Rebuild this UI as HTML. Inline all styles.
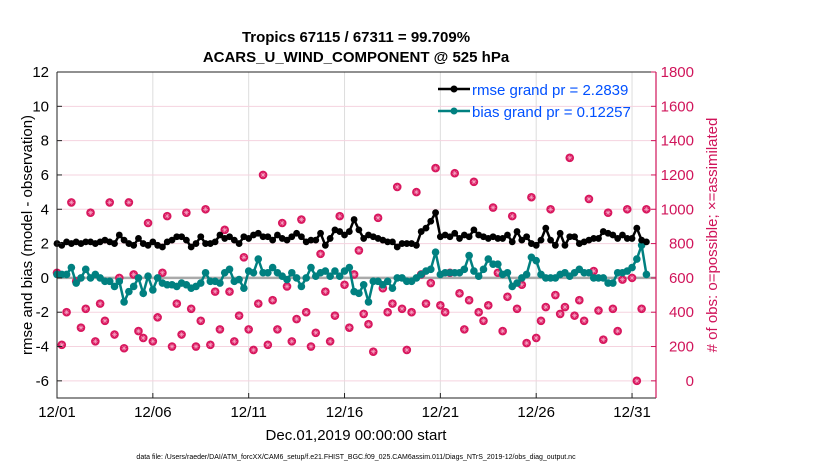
<!DOCTYPE html>
<html><head><meta charset="utf-8"><style>
body{margin:0;background:#fff;}
svg text{font-family:"Liberation Sans",sans-serif;}
</style></head><body>
<svg id="c" width="830" height="470" xmlns="http://www.w3.org/2000/svg">
<rect width="830" height="470" fill="#fff"/>
<g id="grid"></g>
<g id="series"></g>
<g id="axes"></g>
<text x="356" y="42" text-anchor="middle" font-size="15" font-weight="bold">Tropics 67115 / 67311 = 99.709%</text>
<text x="356" y="62" text-anchor="middle" font-size="15" font-weight="bold">ACARS_U_WIND_COMPONENT @ 525 hPa</text>
<text transform="translate(32,235) rotate(-90)" text-anchor="middle" font-size="15">rmse and bias (model - observation)</text>
<text transform="translate(717,235) rotate(-90)" text-anchor="middle" font-size="15" fill="#d0145a"># of obs: o=possible; ×=assimilated</text>
<text x="356" y="440" text-anchor="middle" font-size="15">Dec.01,2019 00:00:00 start</text>
<text x="356" y="459" text-anchor="middle" font-size="7">data file: /Users/raeder/DAI/ATM_forcXX/CAM6_setup/f.e21.FHIST_BGC.f09_025.CAM6assim.011/Diags_NTrS_2019-12/obs_diag_output.nc</text>
<g>
<line x1="438" y1="89" x2="470" y2="89" stroke="#000" stroke-width="2.5"/><circle cx="454" cy="89" r="3.5" fill="#000"/>
<text x="472" y="95" font-size="15" fill="#0050ff">rmse grand pr = 2.2839</text>
<line x1="438" y1="111" x2="470" y2="111" stroke="#008080" stroke-width="2.5"/><circle cx="454" cy="111" r="3.5" fill="#008080"/>
<text x="472" y="117" font-size="15" fill="#0050ff">bias grand pr = 0.12257</text>
</g>
</svg>
<script>
const rmse=[2.0,1.9,2.1,2.0, 2.1,2.0,2.1,2.1, 2.0,2.1,2.2,2.1, 2.0,2.5,2.2,2.0, 1.9,2.3,2.0,1.9, 2.1,1.9,1.8,2.1, 2.2,2.4,2.4,2.2, 1.8,2.0,2.4,2.0, 2.0,2.1,2.5,2.3, 2.4,2.2,2.0,2.4, 2.3,2.5,2.6,2.4, 2.4,2.2,2.5,2.3, 2.2,2.4,2.6,2.4, 2.1,2.2,2.2,2.6, 1.9,2.3,2.8,2.7, 2.5,2.7,3.4,2.8, 2.3,2.5,2.4,2.3, 2.2,2.1,2.1,1.8, 2.0,2.0,2.0,1.9, 2.7,2.9,3.3,3.8, 2.4,2.5,2.4,2.6, 2.3,2.5,2.4,2.8, 2.5,2.4,2.3,2.4, 2.3,2.3,2.5,2.1, 2.7,2.2,2.4,2.0, 1.9,2.2,2.9,2.2, 1.9,2.6,1.9,2.4, 2.4,2.0,2.1,2.2, 2.3,2.3,2.7,2.6, 2.5,2.3,2.5,2.3, 2.3,2.9,2.2,2.1];
const bias=[0.2,0.2,0.2,0.6, -0.3,0.0,0.5,0.0, 0.2,0.0,-0.2,-0.2, -0.5,-0.2,-1.4,-0.8, -0.5,0.0,-0.9,0.1, -0.7,0.0,-0.3,-0.4, -0.4,-0.5,-0.3,-0.4, -0.6,-0.5,-0.3,0.3, -0.2,-0.2,-0.3,0.3, 0.5,-0.2,-0.1,-0.6, 0.4,0.3,1.1,0.3, 0.3,0.6,0.3,0.1, -0.1,0.3,0.0,-0.5, 0.0,0.6,0.1,0.3, 0.4,0.1,0.4,0.1, 0.4,0.6,-0.8,-0.9, -0.4,-1.4,-0.2,-0.2, -0.4,-0.2,-0.6,0.0, 0.0,-0.2,-0.2,0.0, 0.2,0.4,0.5,1.5, 0.2,0.3,0.3,0.3, 0.3,0.5,1.3,0.4, 0.1,0.5,1.1,0.8, 0.8,0.2,0.3,-0.5, -0.3,0.0,0.2,1.2, 1.0,0.2,0.0,0.0, 0.0,0.2,0.3,0.1, 0.3,0.5,0.3,0.3, 0.0,0.0,0.0,-0.3, -0.3,0.3,0.3,0.4, 0.6,1.1,1.9,0.2];
const nobs=[630,210,400,1040, 580,310,420,980, 230,450,350,1040, 270,600,190,1040, 620,290,250,920, 230,370,630,960, 200,450,270,980, 420,200,350,1000, 210,520,300,880, 520,230,380,720, 300,180,450,1200, 210,470,300,920, 550,230,360,940, 400,200,280,740, 520,230,380,960, 560,310,620,760, 390,330,170,950, 540,400,450,1130, 420,180,400,1100, 620,450,570,1240, 440,400,630,1210, 510,300,470,1160, 400,350,440,1010, 630,290,490,960, 420,560,220,1070, 250,350,430,1000, 500,390,430,1300, 380,470,350,1060, 640,410,240,980, 420,290,590,1000, 600,0,420,1000];
const yTicks=[-6,-4,-2,0,2,4,6,8,10,12];
const rTicks=[0,200,400,600,800,1000,1200,1400,1600,1800];
const xTickLabels=["12/01","12/06","12/11","12/16","12/21","12/26","12/31"];
const xTickDays=[0,5,10,15,20,25,30];
const X0=57,X1=656,Y0=72,Y1=398,DMAX=31.25;
const xs=d=>X0+(X1-X0)*d/DMAX;
const ys=v=>Y0+(Y1-Y0)*(12-v)/19;
const yr=n=>ys(n/100-6);
const NS="http://www.w3.org/2000/svg";
function mk(p,t,a){const e=document.createElementNS(NS,t);for(const k in a)e.setAttribute(k,a[k]);document.getElementById(p).appendChild(e);return e;}
for(const d of xTickDays){const l=mk('grid','line',{x1:xs(d),x2:xs(d),y1:Y0,y2:Y1,stroke:'#ddd','stroke-width':1});

}
for(const v of rTicks){const l=mk('grid','line',{x1:X0,x2:X1,y1:yr(v),y2:yr(v),stroke:'#f5d3df','stroke-width':1});

}
const z=mk('grid','line',{x1:X0,x2:X1,y1:ys(0),y2:ys(0),stroke:'#aaa','stroke-width':2.5});


nobs.forEach((n,i)=>{const x=xs(i/4),y=yr(n);const g=mk('series','g',{});


const c=document.createElementNS(NS,'circle');c.setAttribute('cx',x);c.setAttribute('cy',y);c.setAttribute('r',4.3);c.setAttribute('fill','#d8175e');g.appendChild(c);
const p=document.createElementNS(NS,'path');p.setAttribute('d',`M${x-2.5} ${y}H${x+2.5}M${x} ${y-2.5}V${y+2.5}M${x-1.8} ${y-1.8}L${x+1.8} ${y+1.8}M${x-1.8} ${y+1.8}L${x+1.8} ${y-1.8}`);p.setAttribute('stroke','#f7a8c6');p.setAttribute('stroke-width',0.6);g.appendChild(p);});
function series(arr,col,name,r){const pts=arr.map((v,i)=>xs(i/4)+','+ys(v)).join(' ');
const pl=mk('series','polyline',{points:pts,fill:'none',stroke:col,'stroke-width':2.5});


arr.forEach((v,i)=>{const c=mk('series','circle',{cx:xs(i/4),cy:ys(v),r:r,fill:col});

});}
series(bias,'#008080','bias',3.8);
series(rmse,'#000','rmse',3.4);
const fr=mk('axes','path',{d:`M${X0} ${Y0}V${Y1}H${X1}M${X0} ${Y0}H${X1}`,stroke:'#222',fill:'none','stroke-width':1});


const ra=mk('axes','line',{x1:X1,x2:X1,y1:Y0,y2:Y1,stroke:'#d0145a','stroke-width':1.2});


yTicks.forEach(v=>{mk('axes','line',{x1:X0,x2:X0+5,y1:ys(v),y2:ys(v),stroke:'#222'});
const t=mk('axes','text',{x:X0-8,y:ys(v)+5,'text-anchor':'end','font-size':15});t.textContent=v;

});
rTicks.forEach(v=>{mk('axes','line',{x1:X1-5,x2:X1,y1:yr(v),y2:yr(v),stroke:'#d0145a'});
const t=mk('axes','text',{x:694,y:yr(v)+5,'text-anchor':'end','font-size':15,fill:'#d0145a'});t.textContent=v;

});
xTickDays.forEach((d,i)=>{mk('axes','line',{x1:xs(d),x2:xs(d),y1:Y1,y2:Y1-5,stroke:'#222'});
const t=mk('axes','text',{x:xs(d),y:417,'text-anchor':'middle','font-size':15});t.textContent=xTickLabels[i];

});
</script>
</body></html>
